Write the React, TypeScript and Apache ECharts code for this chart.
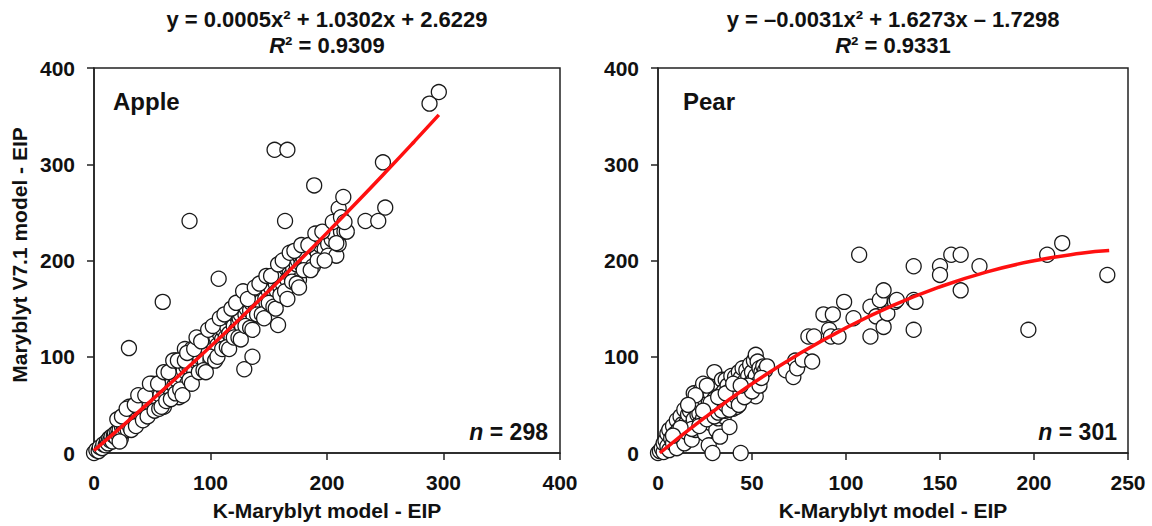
import React, { useEffect, useRef } from "react";
import * as echarts from "echarts";

const FONT = "Liberation Sans, Arial, sans-serif";

const xTicksApple = [0, 100, 200, 300, 400];
const xTicksPear = [0, 50, 100, 150, 200, 250];
const yTicks = [0, 100, 200, 300, 400];

const appleEquation = "y = 0.0005x² + 1.0302x + 2.6229";
const appleR2 = "0.9309";
const pearEquation = "y = –0.0031x² + 1.6273x – 1.7298";
const pearR2 = "0.9331";

const appleN = 298;
const pearN = 301;

// Apple: [K-Maryblyt EIP, Maryblyt V7.1 EIP]
const applePoints: number[][] = [
  [0, 0], [2, 3], [4, 2], [5, 6], [7, 5], [8, 9], [10, 8], [11, 12], [12, 10], [13, 15],
  [14, 13], [15, 17], [16, 12], [17, 18], [18, 20], [19, 16], [20, 22], [21, 19], [22, 24], [23, 15],
  [24, 27], [25, 22], [26, 28], [27, 25], [28, 30], [29, 24], [30, 33], [30, 48], [31, 27], [32, 36],
  [30, 109], [33, 30], [34, 48], [35, 38], [36, 45], [37, 34], [38, 41], [39, 50], [40, 44], [41, 36],
  [42, 47], [43, 52], [44, 40], [45, 49], [46, 55], [47, 44], [48, 52], [50, 57], [50, 72], [52, 48],
  [53, 60], [54, 72], [55, 64], [56, 52], [57, 60], [58, 72], [59, 157], [60, 66], [60, 48], [62, 60],
  [63, 72], [64, 68], [65, 78], [66, 60], [67, 72], [68, 84], [69, 70], [70, 96], [71, 76], [72, 84],
  [73, 58], [74, 90], [75, 80], [76, 96], [77, 86], [78, 108], [79, 90], [80, 72], [81, 96], [82, 241],
  [82, 88], [83, 100], [84, 108], [85, 92], [86, 84], [87, 96], [88, 104], [89, 108], [90, 96], [91, 100],
  [92, 108], [93, 120], [94, 104], [95, 96], [96, 112], [97, 120], [98, 108], [100, 116], [100, 96], [102, 120],
  [103, 108], [104, 132], [105, 120], [106, 112], [107, 181], [108, 124], [109, 132], [110, 118], [111, 128], [112, 140],
  [113, 120], [114, 132], [115, 144], [116, 124], [117, 140], [118, 120], [119, 150], [120, 132], [121, 144], [122, 128],
  [123, 156], [124, 136], [125, 140], [126, 144], [127, 132], [128, 156], [129, 87], [130, 144], [131, 150], [132, 138],
  [133, 160], [134, 148], [135, 156], [136, 100], [137, 142], [138, 160], [139, 150], [140, 166], [141, 156], [142, 144],
  [143, 168], [144, 158], [145, 152], [146, 168], [147, 160], [148, 156], [150, 168], [152, 172], [153, 160], [154, 180],
  [155, 315], [155, 166], [156, 176], [157, 168], [158, 133], [159, 180], [160, 172], [161, 190], [162, 176], [163, 184],
  [164, 241], [165, 192], [166, 315], [166, 180], [167, 196], [168, 188], [169, 184], [170, 196], [171, 192], [172, 204],
  [173, 188], [174, 196], [175, 200], [176, 180], [177, 204], [178, 196], [179, 208], [180, 200], [181, 192], [182, 208],
  [184, 200], [186, 216], [188, 217], [188, 194], [189, 278], [190, 212], [192, 208], [194, 216], [196, 220], [198, 212],
  [201, 217], [201, 205], [204, 222], [206, 228], [208, 205], [210, 217], [210, 254], [212, 230], [214, 266], [215, 230],
  [217, 230], [233, 241], [244, 241], [248, 302], [250, 255], [288, 363], [296, 375],
  [20, 35], [22, 12], [24, 38], [28, 46], [32, 24], [35, 50], [36, 28], [38, 60], [42, 34], [44, 60],
  [46, 38], [48, 72], [52, 44], [55, 72], [56, 46], [58, 48], [60, 84], [62, 54], [64, 84], [66, 56],
  [68, 96], [70, 62], [72, 96], [74, 66], [76, 60], [78, 96], [80, 104], [82, 76], [84, 72], [86, 108],
  [88, 120], [90, 84], [92, 116], [94, 86], [96, 84], [98, 128], [100, 100], [102, 132], [104, 96], [106, 100],
  [108, 140], [110, 108], [112, 144], [114, 110], [116, 108], [118, 150], [120, 120], [122, 156], [124, 120], [126, 118],
  [128, 168], [130, 132], [132, 160], [134, 130], [136, 128], [138, 172], [140, 144], [142, 176], [144, 144], [146, 140],
  [148, 184], [150, 156], [152, 184], [154, 152], [156, 150], [158, 196], [160, 164], [162, 200], [164, 168], [166, 160],
  [168, 208], [170, 178], [172, 210], [174, 176], [176, 172], [178, 216], [180, 190], [184, 216], [186, 190], [190, 228],
  [192, 200], [196, 230], [198, 200], [205, 240], [208, 218], [212, 245], [215, 240],
];

// Pear: [K-Maryblyt EIP, Maryblyt V7.1 EIP]
const pearPoints: number[][] = [
  [0, 0], [1, 2], [2, 5], [3, 1], [3, 10], [4, 13], [5, 7], [5, 20], [6, 3], [6, 24],
  [7, 15], [8, 10], [8, 28], [9, 20], [10, 34], [10, 5], [11, 24], [12, 17], [12, 38], [13, 30],
  [14, 10], [14, 45], [15, 31], [15, 22], [16, 40], [17, 44], [17, 27], [18, 14], [18, 52], [19, 35],
  [19, 62], [20, 24], [20, 48], [21, 40], [21, 58], [22, 41], [22, 30], [23, 66], [23, 50], [24, 72],
  [24, 36], [25, 55], [25, 20], [26, 44], [26, 62], [27, 8], [27, 52], [28, 62], [28, 31], [29, 0],
  [29, 70], [29, 40], [30, 84], [30, 56], [31, 24], [31, 48], [32, 66], [32, 36], [33, 60], [33, 17],
  [34, 76], [34, 50], [35, 38], [35, 64], [36, 76], [36, 44], [37, 58], [37, 70], [38, 27], [38, 52],
  [39, 66], [39, 80], [40, 67], [40, 46], [41, 56], [41, 79], [42, 48], [42, 72], [43, 62], [43, 84],
  [44, 0], [44, 55], [44, 78], [45, 68], [45, 88], [46, 60], [46, 74], [47, 86], [47, 66], [48, 62],
  [48, 80], [49, 72], [49, 92], [50, 68], [50, 84], [51, 76], [51, 96], [52, 102], [52, 80], [52, 59],
  [53, 95], [53, 72], [54, 88], [55, 84], [56, 90], [57, 86], [58, 90],
  [18, 25], [22, 28], [26, 35], [30, 38], [32, 42], [34, 44], [36, 50], [38, 45], [40, 54], [42, 58],
  [43, 50], [46, 58], [48, 70], [50, 64], [54, 70], [55, 78], [28, 52], [32, 58], [36, 62], [40, 72],
  [44, 70], [26, 70], [20, 60], [16, 50], [12, 26], [8, 18], [24, 44],
  [68, 86], [72, 79], [73, 96], [74, 88], [77, 97], [80, 121], [82, 95], [83, 121], [88, 144], [91, 128],
  [92, 121], [93, 144], [96, 121], [99, 157], [104, 140], [107, 206], [113, 152], [113, 121], [116, 142], [118, 159],
  [120, 131], [120, 169], [122, 145], [126, 157], [127, 159], [136, 194], [136, 159], [137, 157], [136, 128], [150, 194],
  [150, 185], [156, 206], [161, 206], [161, 169], [171, 194], [197, 128], [207, 206], [215, 218], [239, 185],
];

// Fitted quadratic trend lines
const appleFit: number[][] = [
  [0, 2.6], [25, 28.7], [50, 55.4], [75, 82.7], [100, 110.6], [125, 139.2], [150, 168.4],
  [175, 198.2], [200, 228.7], [225, 259.7], [250, 291.4], [275, 323.7], [296, 351.3],
];
const pearFit: number[][] = [
  [1, 0], [25, 37], [50, 71.9], [75, 102.9], [100, 130], [125, 153.3], [150, 172.6],
  [175, 188.2], [200, 199.7], [225, 207.5], [240, 210.3],
];

const axisLabelStyle = {
  fontSize: 21,
  fontWeight: "bold" as const,
  color: "#111",
  fontFamily: FONT,
};

function makeX(gridIndex: number, ticks: number[]) {
  return {
    type: "value",
    gridIndex,
    min: ticks[0],
    max: ticks[ticks.length - 1],
    interval: ticks[1] - ticks[0],
    axisLine: { show: true, onZero: false, lineStyle: { color: "#222", width: 1.5 } },
    axisTick: { show: true, inside: false, length: 7, lineStyle: { color: "#222", width: 1.5 } },
    axisLabel: { ...axisLabelStyle, margin: 19 },
    splitLine: { show: false },
  };
}

function makeY(gridIndex: number) {
  return {
    type: "value",
    gridIndex,
    min: yTicks[0],
    max: yTicks[yTicks.length - 1],
    interval: yTicks[1] - yTicks[0],
    axisLine: { show: true, onZero: false, lineStyle: { color: "#222", width: 1.5 } },
    axisTick: { show: true, inside: false, length: 7, lineStyle: { color: "#222", width: 1.5 } },
    axisLabel: { ...axisLabelStyle, margin: 19 },
    splitLine: { show: false },
  };
}

function scatter(i: number, data: number[][]) {
  return {
    type: "scatter",
    xAxisIndex: i,
    yAxisIndex: i,
    data,
    symbol: "circle",
    symbolSize: 15,
    clip: false,
    itemStyle: { color: "#fff", borderColor: "#1a1a1a", borderWidth: 1.3, opacity: 1 },
    z: 2,
  };
}

function fitLine(i: number, data: number[][]) {
  return {
    type: "line",
    xAxisIndex: i,
    yAxisIndex: i,
    data,
    smooth: true,
    showSymbol: false,
    symbol: "none",
    lineStyle: { color: "#ff1010", width: 3.5 },
    z: 5,
  };
}

function txt(x: number, y: number, text: string, opts: any = {}) {
  return {
    type: "text",
    x,
    y,
    z: 10,
    rotation: opts.rotation || 0,
    style: {
      text,
      fontSize: opts.fontSize || 19,
      fontWeight: "bold",
      fontFamily: FONT,
      fill: "#111",
      textAlign: opts.align || "center",
      textVerticalAlign: "middle",
      rich: opts.rich,
    },
  };
}

export default function App() {
  const ref = useRef<HTMLDivElement>(null);
  useEffect(() => {
    document.body.style.margin = "0";
    if (!ref.current) return;
    const chart = echarts.init(ref.current, undefined, { renderer: "svg" });
    const richItalic = (size: number) => ({
      i: { fontStyle: "italic", fontWeight: "bold", fontSize: size, fontFamily: FONT, fill: "#111" },
    });
    chart.setOption({
      animation: false,
      backgroundColor: "#fff",
      grid: [
        { left: 94, top: 68, width: 466, height: 385, show: true, borderColor: "#222", borderWidth: 1.5, backgroundColor: "transparent" },
        { left: 658, top: 68, width: 470, height: 385, show: true, borderColor: "#222", borderWidth: 1.5, backgroundColor: "transparent" },
      ],
      xAxis: [makeX(0, xTicksApple), makeX(1, xTicksPear)],
      yAxis: [makeY(0), makeY(1)],
      series: [
        scatter(0, applePoints),
        fitLine(0, appleFit),
        scatter(1, pearPoints),
        fitLine(1, pearFit),
      ],
      graphic: [
        txt(327, 19, appleEquation, { fontSize: 22 }),
        txt(327, 45, `{i|R}² = ${appleR2}`, { fontSize: 22, rich: richItalic(22) }),
        txt(893, 19, pearEquation, { fontSize: 22 }),
        txt(893, 45, `{i|R}² = ${pearR2}`, { fontSize: 22, rich: richItalic(22) }),
        txt(113, 101, "Apple", { fontSize: 24, align: "left" }),
        txt(683, 101, "Pear", { fontSize: 24, align: "left" }),
        txt(548, 432, `{i|n} = ${appleN}`, { fontSize: 23, align: "right", rich: richItalic(23) }),
        txt(1117, 432, `{i|n} = ${pearN}`, { fontSize: 23, align: "right", rich: richItalic(23) }),
        txt(327, 510, "K-Maryblyt model - EIP", { fontSize: 21 }),
        txt(893, 510, "K-Maryblyt model - EIP", { fontSize: 21 }),
        txt(19, 255, "Maryblyt V7.1 model - EIP", { fontSize: 21, rotation: Math.PI / 2 }),
      ],
    });
    return () => chart.dispose();
  }, []);
  return <div ref={ref} style={{ width: 1152, height: 526 }} />;
}
